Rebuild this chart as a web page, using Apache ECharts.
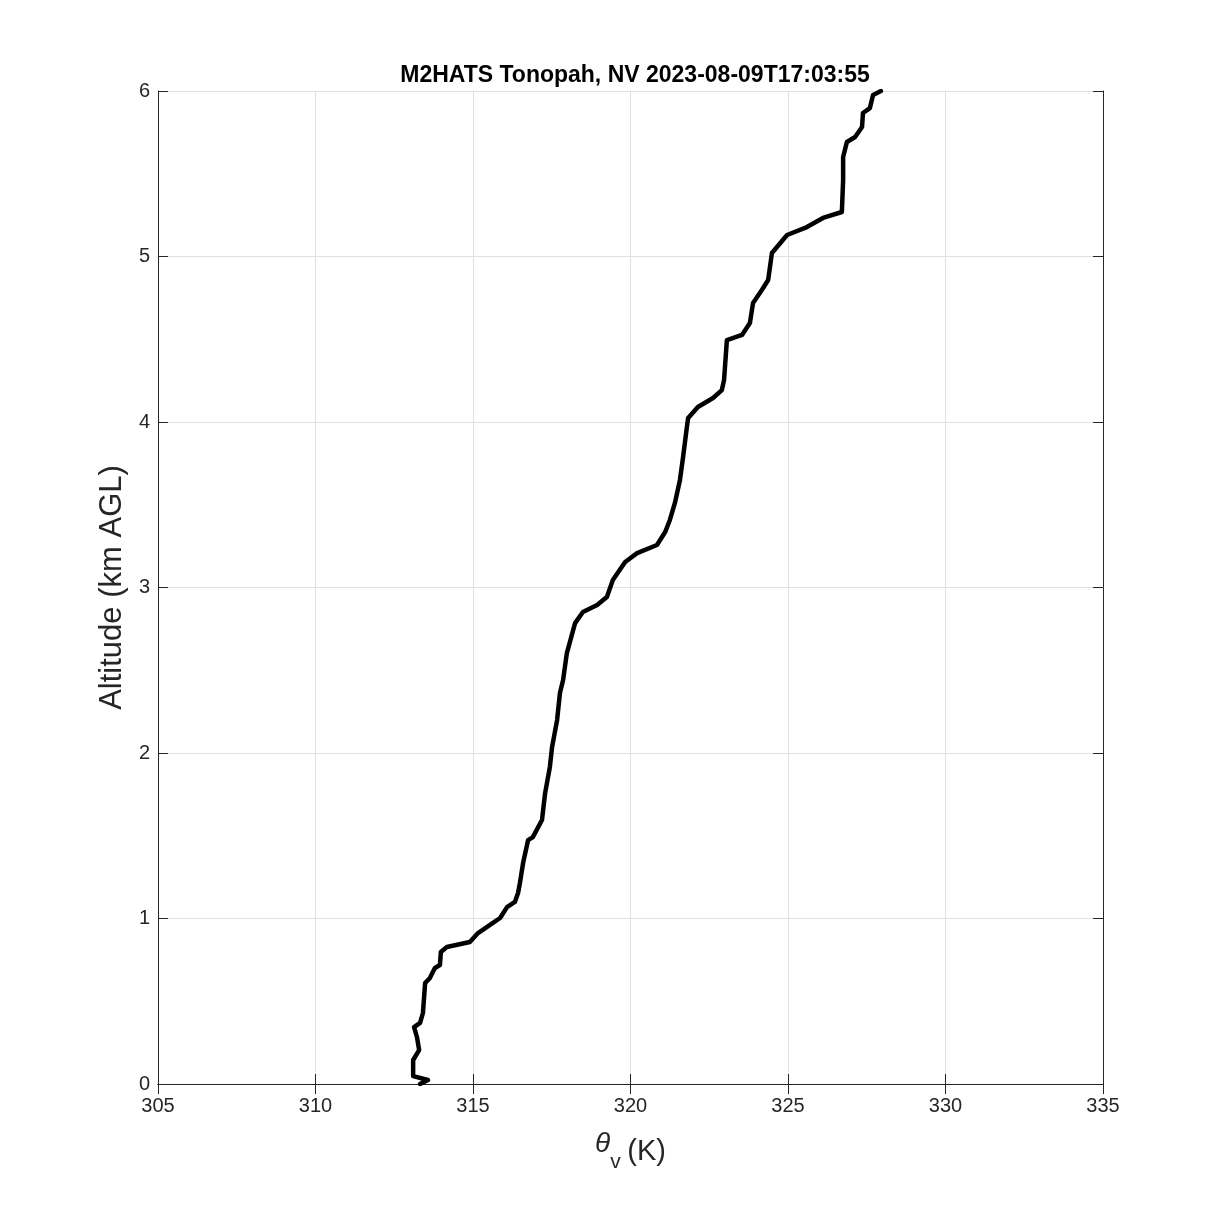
<!DOCTYPE html>
<html>
<head>
<meta charset="utf-8">
<script src="https://cdn.jsdelivr.net/npm/echarts@6/dist/echarts.min.js"></script>
<style>html,body{margin:0;padding:0;background:#fff}#c{width:1219px;height:1219px}</style>
</head>
<body>
<div id="c"></div>
<script>
// Virtual potential temperature (K)
const thetaV = [313.32,313.57,313.10,313.10,313.10,313.29,313.22,313.13,313.32,313.41,313.48,313.63,313.79,313.95,313.98,314.17,314.90,315.16,315.54,315.86,316.08,316.33,316.43,316.49,316.59,316.75,316.90,317.19,317.29,317.44,317.51,317.67,317.76,317.86,317.98,318.24,318.49,318.94,319.25,319.44,319.83,320.21,320.84,321.10,321.25,321.41,321.57,321.67,321.79,321.83,322.14,322.62,322.90,322.97,323.06,323.54,323.79,323.89,324.17,324.37,324.49,324.97,325.60,326.11,326.71,326.75,326.75,326.87,327.13,327.35,327.38,327.60,327.70,327.95];
// Altitude (km AGL)
const altitude = [0.000,0.024,0.048,0.066,0.145,0.205,0.284,0.344,0.369,0.429,0.610,0.640,0.701,0.719,0.798,0.828,0.858,0.912,0.961,1.003,1.069,1.100,1.154,1.215,1.335,1.474,1.492,1.595,1.758,1.915,2.036,2.199,2.363,2.441,2.604,2.785,2.852,2.894,2.943,3.045,3.154,3.208,3.257,3.335,3.408,3.511,3.650,3.789,3.970,4.024,4.091,4.145,4.193,4.254,4.495,4.526,4.598,4.719,4.798,4.858,5.021,5.130,5.178,5.233,5.269,5.462,5.601,5.692,5.722,5.782,5.867,5.897,5.976,6.000];
const titleText = 'M2HATS Tonopah, NV 2023-08-09T17:03:55';
const xTicks = [305,310,315,320,325,330,335];
const yTicks = [0,1,2,3,4,5,6];

const pts = thetaV.map((t,i)=>[t, altitude[i]]);
const font = 'Liberation Sans, Helvetica, Arial, sans-serif';
const chart = echarts.init(document.getElementById('c'));
const axisCommon = {
  axisLine:{show:true,lineStyle:{color:'#262626',width:1}},
  axisTick:{show:true,inside:true,length:10,lineStyle:{color:'#262626',width:1}},
};
chart.setOption({
  animation:false,
  backgroundColor:'#fff',
  title:{text:titleText,left:630,top:59,textAlign:'center',
    textStyle:{fontFamily:font,fontSize:23,fontWeight:'bold',color:'#000'}},
  grid:{left:158,right:116,top:91,bottom:135,show:false},
  xAxis:[
    Object.assign({type:'value',min:xTicks[0],max:xTicks[xTicks.length-1],interval:5,position:'bottom',
      name:'{t|θ}{s|v}  {k|(K)}',nameLocation:'middle',nameGap:46,
      nameTextStyle:{rich:{
        t:{fontFamily:font,fontSize:28,fontStyle:'italic',color:'#262626',verticalAlign:'top'},
        s:{fontFamily:font,fontSize:21,color:'#262626',padding:[22,0,0,0]},
        k:{fontFamily:font,fontSize:29,color:'#262626'}}},
      axisLabel:{fontFamily:font,fontSize:20,color:'#262626',margin:12},
      splitLine:{show:true,lineStyle:{color:'#dfdfdf',width:1}}},axisCommon),
    Object.assign({type:'value',min:xTicks[0],max:xTicks[xTicks.length-1],interval:5,position:'top',
      axisLabel:{show:false},splitLine:{show:false}},axisCommon)
  ],
  yAxis:[
    Object.assign({type:'value',min:yTicks[0],max:yTicks[yTicks.length-1],interval:1,position:'left',
      name:'Altitude (km AGL)',nameLocation:'middle',nameGap:30,
      nameTextStyle:{fontFamily:font,fontSize:31,color:'#262626'},
      axisLabel:{fontFamily:font,fontSize:20,color:'#262626',margin:8},
      splitLine:{show:true,lineStyle:{color:'#dfdfdf',width:1}}},axisCommon),
    Object.assign({type:'value',min:yTicks[0],max:yTicks[yTicks.length-1],interval:1,position:'right',
      axisLabel:{show:false},splitLine:{show:false}},axisCommon)
  ],
  series:[{type:'line',data:pts,xAxisIndex:0,yAxisIndex:0,showSymbol:false,
    lineStyle:{color:'#000',width:4.5,join:'round',cap:'round'},z:5}]
});
</script>
</body>
</html>
